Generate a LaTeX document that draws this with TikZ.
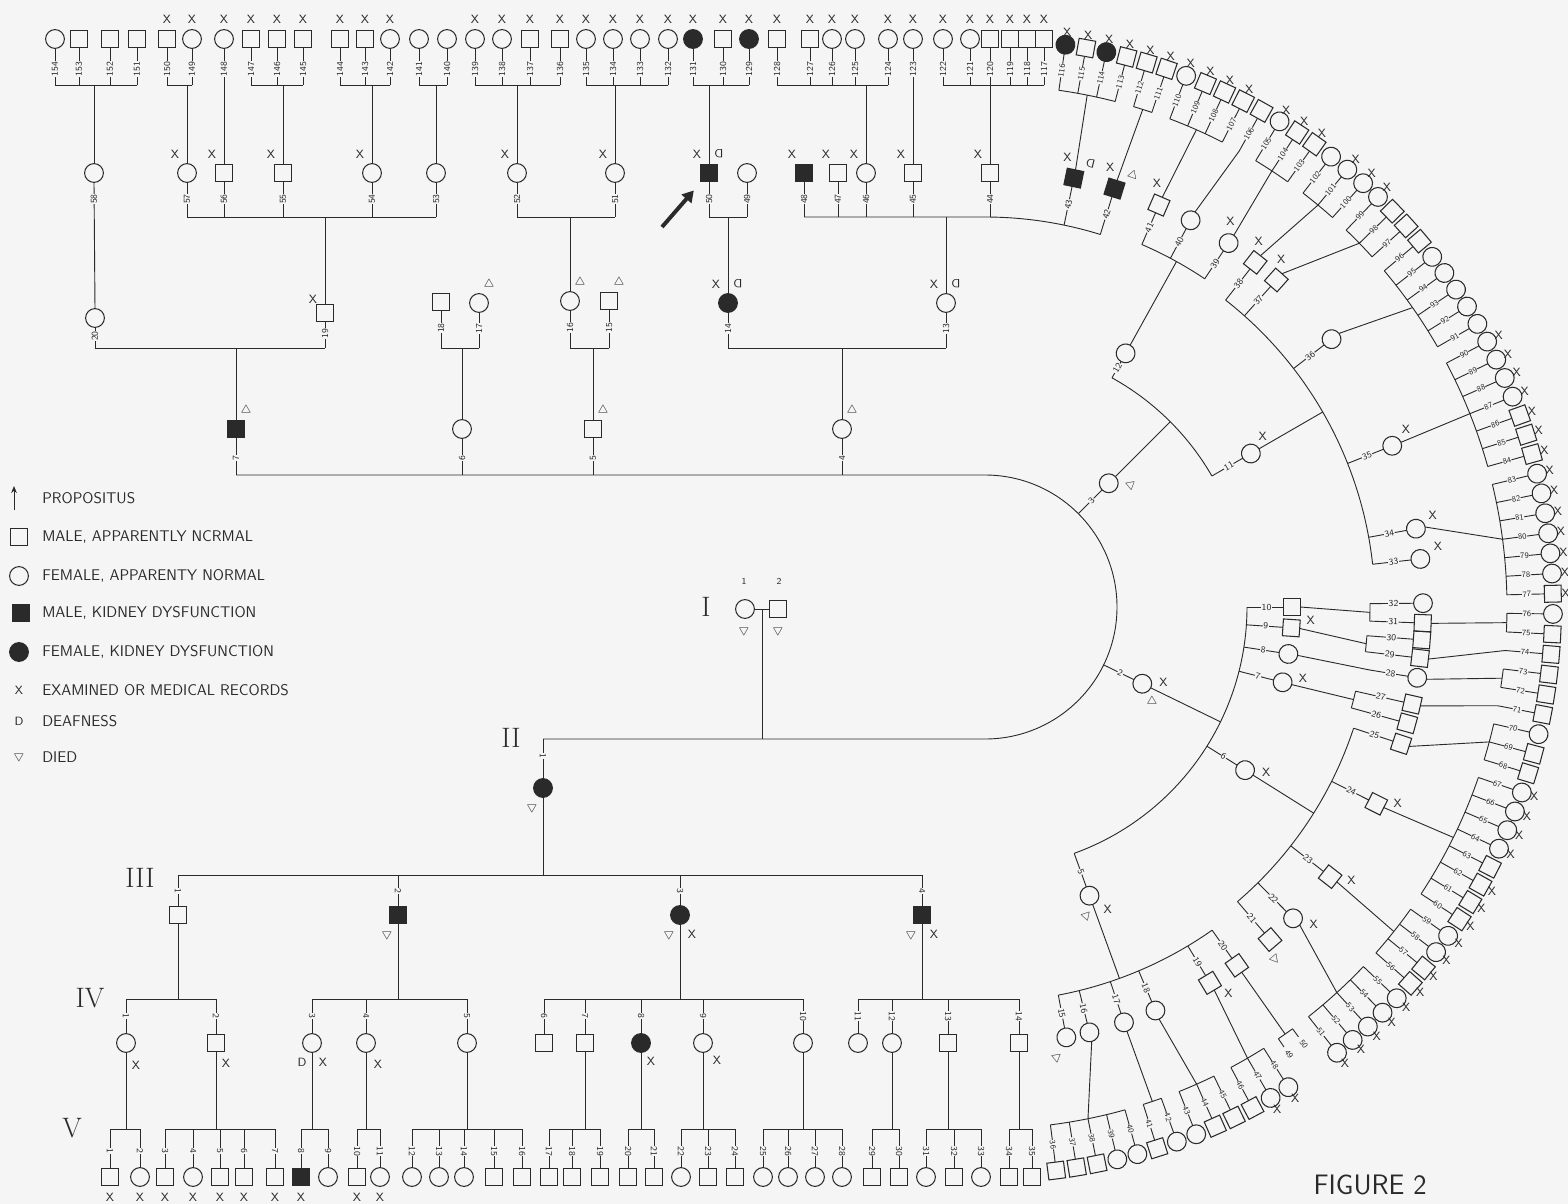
\documentclass[tikz,border=0pt]{standalone}
\usepackage{tikz}
\usetikzlibrary{calc,arrows.meta}
\definecolor{ink}{HTML}{2A2A2A}
\definecolor{paper}{HTML}{F5F5F5}
\pgfmathdeclarefunction{vang}{1}{%
  \pgfmathparse{(#1<49)*(82.8-(#1-36)*2.09)+(#1>48)*(51.7-(#1-51)*2.04-max(#1-100,0)*0.06)}%
}
\tikzset{
  sym/.style={draw=ink, line width=0.75pt, inner sep=0pt, outer sep=0pt},
  male/.style={sym, rectangle, minimum size=0.42cm},
  female/.style={sym, circle, minimum size=0.47cm},
  amale/.style={male, fill=ink},
  afemale/.style={female, fill=ink},
  num/.style={font=\sffamily\fontsize{6.5}{6.5}\selectfont, text=ink, fill=paper, inner sep=0.4pt},
  rnum/.style={num, font=\sffamily\fontsize{5.8}{5.8}\selectfont, inner sep=0.2pt},
  mk/.style={font=\sffamily\fontsize{8.5}{8.5}\selectfont, text=ink, inner sep=0pt},
  tie/.style={draw=ink, line width=0.65pt},
  gen/.style={font=\rmfamily\fontsize{20}{20}\selectfont, text=ink},
  legendtext/.style={font=\sffamily\fontsize{11}{13}\selectfont, text=ink, anchor=west, inner sep=0pt},
}
\newcommand{\died}{$\bigtriangledown$}
\newcommand{\ringind}[7][num]{%
  \pgfmathsetmacro\ringrot{-(#3)}%
  \node[#5, rotate=\ringrot] (#2) at ($(C)+(#3:#4)$) {};
  \draw[tie] (#2.west) -- ($(C)+(#3:#7)$);
  \node[#1, rotate=\ringrot] at ($(C)+(#3:{(#4+#7)/2-3})$) {#6};
}

\begin{document}
\begin{tikzpicture}[x=0.025cm, y=-0.025cm]
\fill[paper] (0,0) rectangle (1568,1204);
\useasboundingbox (0,0) rectangle (1568,1204);
\coordinate (C) at (985,607);
\coordinate (vtop) at (0,85);
\coordinate (ivtop) at (0,217);
\coordinate (iiitop) at (0,348);
\coordinate (hstop) at (0,475);
\coordinate (hsbot) at (0,739);
\coordinate (iiibot) at (0,875);
\coordinate (ivbot) at (0,999);
\coordinate (vbot) at (0,1129);

% generation I
\node[female] (i1) at (745,609) {};
\node[male] (i2) at (778,609) {};
\node[num] at (744,581) {1};
\node[num] at (779,581) {2};
\node[mk] at (744,631) {\died};
\node[mk] at (778,631) {\died};
\draw[tie] (i1) -- (i2);
\coordinate (mar) at ($(i1.east)!0.5!(i2.west)$);
\draw[tie] (mar) -- (mar |- hsbot);

% generation II
\node[afemale] (ii1) at (543,788) {};
\foreach \n/\x/\s in {4/842/female, 5/593/male, 6/462/female, 7/236/amale}{
  \node[\s] (ii\n) at (\x,429) {};
  \draw[tie] (ii\n.south) -- (ii\n |- hstop);
  \draw[tie] (ii\n.north) -- (ii\n |- iiitop);
  \node[num, rotate=90] at (\x,458) {\n};
}
\draw[tie] (ii1 |- hsbot) -- ($(C)+(90:132)$) arc[start angle=90, end angle=-90, radius=132] -- (ii7 |- hstop);
\draw[tie] (ii1.north) -- (ii1 |- hsbot);
\draw[tie] (ii1.south) -- (ii1 |- iiibot);
\node[num, rotate=-90] at (543,756) {1};
\foreach \n/\a in {2/26, 3/-45}{
  \ringind{ii\n}{\a}{175}{female}{\n}{132}
  \draw[tie] (ii\n.east) -- ($(C)+(\a:262)$);
}

% generation III, upper side
\foreach \n/\x/\y/\s in {13/946/303/female, 14/728/303/afemale, 15/609/301/male, 16/570/301/female, 17/479/303/female, 18/441/302/male, 19/325/313/male, 20/95/318/female}{
  \node[\s] (iii\n) at (\x,\y) {};
  \draw[tie] (iii\n.south) -- (iii\n |- iiitop);
  \node[num, rotate=90] at (\x,{(\y+348)/2+3}) {\n};
}
\foreach \f/\q in {13/14, 15/16, 17/18, 19/20}
  \draw[tie] (iii\f |- iiitop) -- (iii\q |- iiitop);

% generation III, ring and lower side
\foreach \n/\a/\s/\rad in {5/70.1/female/307, 6/32.1/female/307, 7/14.2/female/307, 8/8.8/female/307, 9/3.9/male/307, 10/0/male/307, 11/-30/female/307, 12/-61/female/290}{
  \ringind{iii\n}{\a}{\rad}{\s}{\n}{262}
}
\draw[tie] ($(C)+(0:262)$) arc[start angle=0, end angle=70.1, radius=262];
\draw[tie] ($(C)+(-61:262)$) arc[start angle=-61, end angle=-30, radius=262];
\foreach \n/\x/\s in {1/178/male, 2/398/amale, 3/680/afemale, 4/922/amale}{
  \node[\s] (iii\n) at (\x,915) {};
  \draw[tie] (iii\n.north) -- (iii\n |- iiibot);
  \node[num, rotate=-90] at (\x,891) {\n};
}
\draw[tie] (iii1 |- iiibot) -- (iii4 |- iiibot);

% generation IV, upper side
\foreach \n/\x/\s in {44/990/male, 45/913/male, 46/866/female, 47/838/male, 48/804/amale, 49/747/female, 50/709/amale, 51/615/female, 52/517/female, 53/436/female, 54/372/female, 55/283/male, 56/224/male, 57/187/female, 58/94/female}{
  \node[\s] (iv\n) at (\x,173) {};
  \ifnum\n<58
    \draw[tie] (iv\n.south) -- (iv\n |- ivtop);
    \node[num, rotate=90] at (\x,199) {\n};
  \fi
}
\draw[tie] (iii20.north) -- (iv58.south);
\node[num, rotate=90] at (94,199) {58};
\draw[tie] (iv48 |- ivtop) -- ($(C)+(-90:390)$) arc[start angle=-90, end angle=-72.8, radius=390];
\draw[tie] (iv50 |- ivtop) -- (iv49 |- ivtop);
\draw[tie] (iv52 |- ivtop) -- (iv51 |- ivtop);
\draw[tie] (iv57 |- ivtop) -- (iv53 |- ivtop);
\foreach \n in {13,14,16,19}
  \draw[tie] (iii\n.north) -- (iii\n |- ivtop);

% generation IV, ring
\foreach \n/\a/\s/\rad in {15/79.3/female/395, 16/76.2/female/395, 17/71.5/female/395, 18/67.1/female/395, 19/59.1/male/395, 20/54.9/male/395, 21/49.4/male/388, 22/45.3/female/388, 23/38/male/388, 24/26.7/male/388, 25/18.2/male/388, 26/15.4/male/380, 27/12.8/male/380, 28/9.3/female/390, 29/6.7/male/383, 30/4.3/male/383, 31/2.1/male/385, 32/-0.5/female/385, 33/-6.3/female/390, 34/-10.3/female/390, 35/-21.6/female/390, 36/-37.7/female/390, 37/-48.3/male/390, 38/-51.9/male/390, 39/-56.2/female/395, 40/-62/female/395, 41/-66.6/male/395, 42/-72.8/amale/390, 43/-78.3/amale/390}{
  \ringind{iv\n}{\a}{438}{\s}{\n}{\rad}
}
\foreach \p/\ta/\tb/\rad/\hit in {5/79.3/54.9/395/70.1, 6/49.4/18.2/388/32.1, 7/15.4/12.8/380/14.1, 9/6.7/4.3/383/5.5, 10/2.1/-0.5/385/0.8, 11/-6.3/-51.9/390/-30, 12/-56.2/-66.6/395/-61}{
  \draw[tie] ($(C)+(\ta:\rad)$) arc[start angle=\ta, end angle=\tb, radius=\rad];
  \draw[tie] (iii\p.east) -- ($(C)+(\hit:\rad)$);
}
\draw[tie] (iii8.east) -- ($(C)+(9.3:390)$);

% generation IV, lower side
\foreach \n/\x/\s in {1/126/female, 2/216/male, 3/312/female, 4/366/female, 5/467/female, 6/544/male, 7/585/male, 8/641/afemale, 9/703/female, 10/803/female, 11/858/female, 12/892/female, 13/948/male, 14/1019/male}{
  \node[\s] (iv\n) at (\x,1043) {};
  \draw[tie] (iv\n.north) -- (iv\n |- ivbot);
  \node[num, rotate=-90] at (\x,1016) {\n};
}
\foreach \p/\f/\q in {1/1/2, 2/3/5, 3/6/10, 4/11/14}{
  \draw[tie] (iv\f |- ivbot) -- (iv\q |- ivbot);
  \draw[tie] (iii\p.south) -- (iii\p |- ivbot);
}

% generation V, top row
\foreach \n/\x/\s/\k in {117/1044/male/1, 118/1027/male/1, 119/1010/male/1, 120/990/male/1, 121/970/female/1, 122/943/female/1, 123/913/female/1, 124/888/female/1, 125/855/female/1, 126/832/female/1, 127/810/male/1, 128/777/male/1, 129/749/afemale/1, 130/723/male/1, 131/693/afemale/1, 132/668/female/1, 133/640/female/1, 134/613/female/1, 135/586/female/1, 136/560/male/1, 137/530/male/1, 138/502/female/1, 139/475/female/1, 140/447/female/0, 141/419/female/0, 142/390/female/1, 143/365/male/1, 144/340/male/1, 145/303/male/1, 146/277/male/1, 147/251/male/1, 148/224/female/1, 149/192/female/1, 150/167/male/1, 151/137/male/0, 152/110/male/0, 153/79/male/0, 154/55/female/0}{
  \node[\s] (v\n) at (\x,39) {};
  \draw[tie] (v\n.south) -- (v\n |- vtop);
  \node[num, rotate=90] at (\x,69) {\n};
  \ifnum\k=1 \node[mk] at (\x,19) {X};\fi
}
\foreach \p/\f/\q in {44/117/122, 45/123/123, 46/124/128, 50/129/131, 51/132/135, 52/136/139, 53/140/141, 54/142/144, 55/145/147, 56/148/148, 57/149/150, 58/151/154}{
  \draw[tie] (v\f |- vtop) -- (v\q |- vtop);
  \draw[tie] (iv\p.north) -- (iv\p |- vtop);
}

% generation V, ring
\foreach \n/\s/\k in {36/male/0, 37/male/0, 38/male/0, 39/female/0, 40/female/0, 41/male/0, 42/female/0, 43/female/0, 44/male/0, 45/male/0, 46/male/0, 47/female/1, 48/female/1, 51/female/1, 52/female/1, 53/female/1, 54/female/1, 55/female/1, 56/male/1, 57/male/1, 58/female/1, 59/female/1, 60/male/1, 61/male/1, 62/male/1, 63/male/0, 64/female/1, 65/female/1, 66/female/1, 67/female/1, 68/male/0, 69/male/0, 70/female/0, 71/male/0, 72/male/0, 73/male/0, 74/male/0, 75/male/0, 76/female/0, 77/male/1, 78/female/1, 79/female/1, 80/female/1, 81/female/1, 82/female/1, 83/female/1, 84/male/1, 85/male/1, 86/male/1, 87/female/1, 88/female/1, 89/female/1, 90/female/1, 91/female/0, 92/female/0, 93/female/0, 94/female/0, 95/female/0, 96/male/0, 97/male/0, 98/male/0, 99/female/1, 100/female/1, 101/female/1, 102/female/0, 103/male/1, 104/male/1, 105/female/1, 106/male/0, 107/male/1, 108/male/1, 109/male/1, 110/female/1, 111/male/1, 112/male/1, 113/male/1, 114/afemale/1, 115/male/1, 116/afemale/1}{
  \pgfmathsetmacro\a{vang(\n)}
  \ringind[rnum]{v\n}{\a}{568}{\s}{\n}{522}
  \ifnum\k=1 \node[mk] at ($(C)+(\a:581)$) {X};\fi
}
\foreach \p/\f/\q in {16/36/40, 17/41/42, 18/43/45, 19/46/48, 22/51/55, 23/56/59, 24/60/67, 25/68/70, 28/72/73, 31/75/76, 34/77/83, 35/84/90, 36/91/96, 37/97/99, 38/100/102, 39/103/105, 41/107/110, 42/111/112, 43/113/116}{
  \pgfmathsetmacro\ta{vang(\f)}
  \pgfmathsetmacro\tb{vang(\q)}
  \pgfmathsetmacro\tm{(\ta+\tb)/2}
  \draw[tie] ($(C)+(\ta:522)$) arc[start angle=\ta, end angle=\tb, radius=522];
  \draw[tie] (iv\p.east) -- ($(C)+(\tm:522)$);
}
\foreach \p/\f in {27/71, 29/74, 40/106}{
  \pgfmathsetmacro\ta{vang(\f)}
  \draw[tie] (iv\p.east) -- ($(C)+(\ta:522)$);
}
\foreach \n/\a in {49/55.8, 50/53.9}{
  \pgfmathsetmacro\ringrot{-(\a)}
  \draw[tie] ($(C)+(\a:522)$) -- ($(C)+(\a:532)$);
  \node[rnum, rotate=\ringrot] (v\n) at ($(C)+(\a:541)$) {\n};
}
\draw[tie] ($(C)+(55.8:522)$) arc[start angle=55.8, end angle=53.9, radius=522];
\draw[tie] (iv20.east) -- ($(C)+(54.9:522)$);

% generation V, bottom row
\foreach \n/\x/\s/\k in {1/110/male/1, 2/140/female/1, 3/165/male/1, 4/193/female/1, 5/220/male/1, 6/244/male/1, 7/275/male/1, 8/301/amale/1, 9/328/female/0, 10/357/male/1, 11/380/female/1, 12/412/female/0, 13/439/female/0, 14/464/female/0, 15/494/male/0, 16/522/male/0, 17/549/male/0, 18/572/male/0, 19/600/male/0, 20/628/male/0, 21/654/male/0, 22/681/female/0, 23/708/male/0, 24/735/male/0, 25/763/female/0, 26/788/female/0, 27/815/female/0, 28/842/female/0, 29/872/male/0, 30/899/male/0, 31/926/female/0, 32/954/male/0, 33/981/female/0, 34/1009/male/0, 35/1032/male/0}{
  \node[\s] (v\n) at (\x,1177) {};
  \draw[tie] (v\n.north) -- (v\n |- vbot);
  \node[num, rotate=-90] at (\x,1151) {\n};
  \ifnum\k=1 \node[mk] at (\x,1197) {X};\fi
}
\foreach \p/\f/\q in {1/1/2, 2/3/7, 3/8/9, 4/10/11, 5/12/16, 7/17/19, 8/20/21, 9/22/24, 10/25/28, 12/29/30, 13/31/33, 14/34/35}{
  \draw[tie] (v\f |- vbot) -- (v\q |- vbot);
  \draw[tie] (iv\p.south) -- (iv\p |- vbot);
}

% marks
\foreach \m in {iv44,iv45,iv46,iv47,iv48,iv50,iv51,iv52,iv54,iv55,iv56,iv57,iii13,iii14}
  \node[mk] at ($(\m)+(-12,-19)$) {X};
\node[mk] at ($(iii19)+(-12,-14)$) {X};
\foreach \m in {ii4,ii5,ii7,iii15,iii16,iii17}
  \node[mk, rotate=180] at ($(\m)+(10,-19)$) {\died};
\foreach \m in {iii13,iii14,iv50}
  \node[mk, rotate=180] at ($(\m)+(10,-19)$) {D};
\foreach \m/\dx/\dy in {iii3/12/19, iii4/12/19, iv1/10/22, iv2/10/20, iv3/11/19, iv4/12/21, iv8/10/18, iv9/14/17}
  \node[mk] at ($(\m)+(\dx,\dy)$) {X};
\foreach \m in {ii1,iii2,iii3,iii4}
  \node[mk] at ($(\m)+(-11,20)$) {\died};
\node[mk] at ($(iv3)+(-10,19)$) {D};
\foreach \a/\rad in {23/194, 67.9/326, 30.4/326, 12.7/326, 2.4/326, -31.6/326, 57.8/457, 44/457, 36.7/457, 25.4/457, -7.6/457, -11.6/457, -22.9/457, -49.6/457, -53.2/457, -57.5/457, -67.9/457, -74.1/457, -79.6/457}
  \node[mk] at ($(C)+(\a:\rad)$) {X};
\foreach \a/\rad/\txt in {29.5/192/\died, -40/190/\died, 71.9/325/\died, 81/456/\died, 50.6/456/\died, -71.1/456/\died, -76.6/456/D}{
  \pgfmathsetmacro\ringrot{90-(\a)}
  \node[mk, rotate=\ringrot] at ($(C)+(\a:\rad)$) {\txt};
}

% propositus
\coordinate (proptail) at (662,227);
\draw[ink, line width=2.8pt, shorten >=0.3cm, -{Triangle[length=8pt, width=9pt]}] (proptail) -- (iv50);

% generation numerals
\node[gen] (genI) at (706,607) {I};
\node[gen] (genII) at (511,738) {II};
\node[gen] (genIII) at (140,878) {III};
\node[gen] (genIV) at (90,998) {IV};
\node[gen] (genV) at (72,1128) {V};

% legend
\draw[tie, -{Stealth[length=5pt, width=4pt]}] (14,510) -- (14,486);
\node[legendtext] (keyp) at (42,498) {PROPOSITUS};
\node[male] (keym) at (19,537) {};
\node[legendtext] at (42,537) {MALE, APPARENTLY NCRMAL};
\node[female] (keyf) at (19,576) {};
\node[legendtext] at (42,576) {FEMALE, APPARENTY NORMAL};
\node[amale] (keyam) at (21,613) {};
\node[legendtext] at (42,613) {MALE, KIDNEY DYSFUNCTION};
\node[afemale] (keyaf) at (19,652) {};
\node[legendtext] at (42,652) {FEMALE, KIDNEY DYSFUNCTION};
\node[mk] (keyx) at (19,690) {X};
\node[legendtext] at (42,690) {EXAMINED OR MEDICAL RECORDS};
\node[mk] (keyd) at (19,721) {D};
\node[legendtext] at (42,721) {DEAFNESS};
\node[mk] (keyt) at (19,757) {\died};
\node[legendtext] at (42,757) {DIED};

\node[font=\sffamily\fontsize{20}{20}\selectfont, text=ink] (fig) at (1370,1185) {FIGURE 2};
\end{tikzpicture}
\end{document}
